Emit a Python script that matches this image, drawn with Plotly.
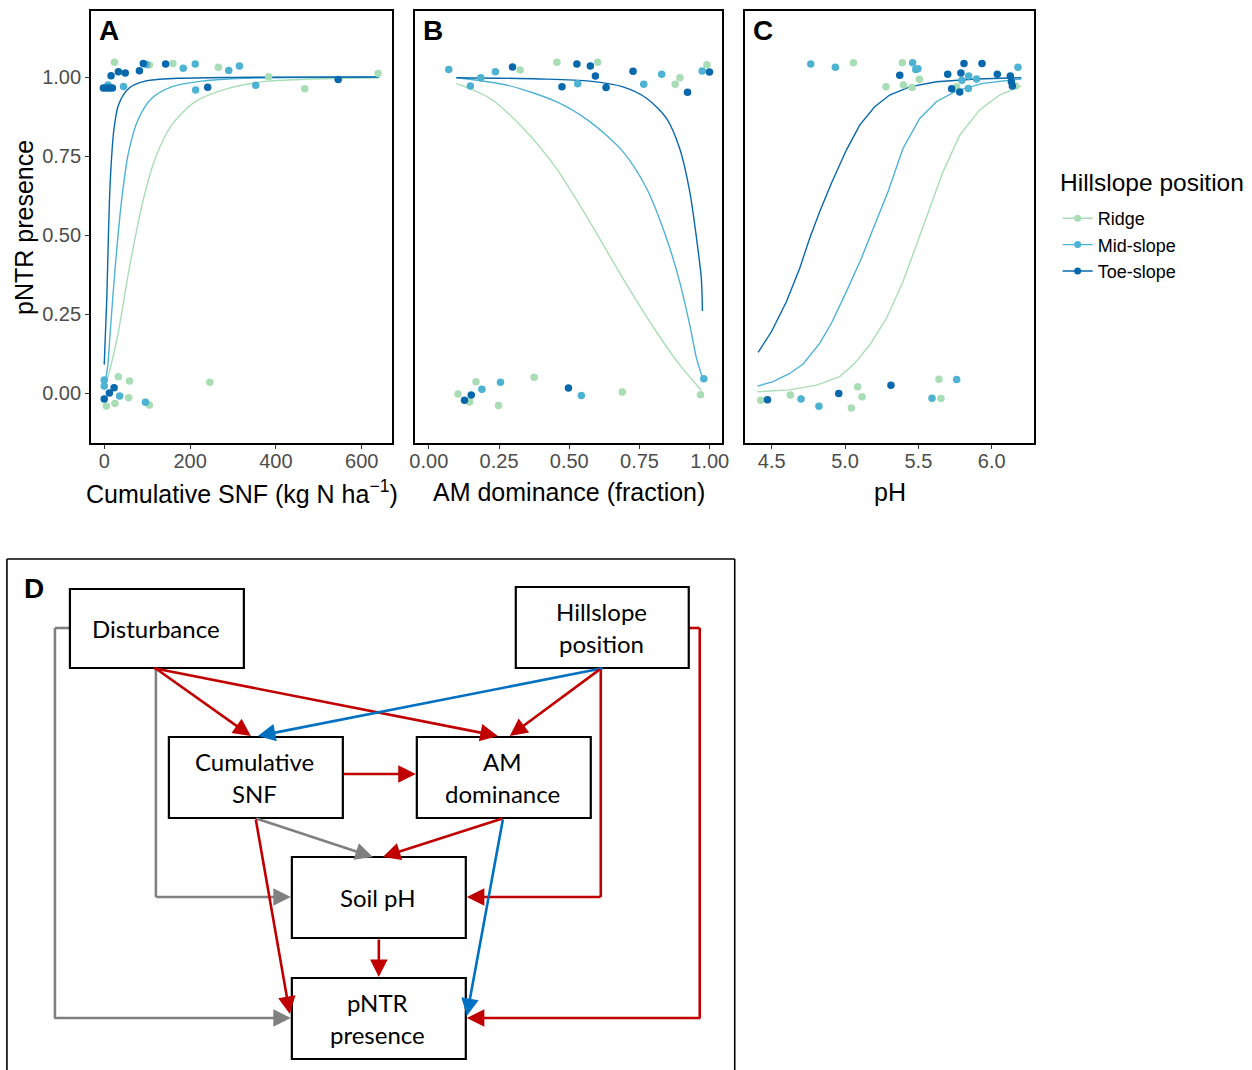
import plotly.graph_objects as go

W, H = 1252, 1070

groups = ["Ridge", "Mid-slope", "Toe-slope"]
colors = ["#a8ddb5", "#4eb3d3", "#0868ac"]

# ---------------- Panel A: cumulative SNF ----------------
snf_ridge_x = [24, 105, 160, 266, 383, 467, 638, 33, 59, 246, 57, 25, 5, 105]
snf_ridge_y = [1.047, 1.038, 1.043, 1.031, 1.001, 0.963, 1.011, 0.052, 0.038, 0.034, -0.015, -0.033, -0.041, -0.038]
snf_mid_x = [9, 45, 98, 184, 212, 213, 290, 315, 353, 0, 0, 36, 96]
snf_mid_y = [0.975, 0.970, 1.040, 1.028, 1.041, 0.959, 1.021, 1.035, 0.974, 0.041, 0.022, -0.009, -0.029]
snf_toe_x = [16, 33, 49, -2, 5, 12, 19, 82, 91, 143, 241, 545, 23, 12, 0]
snf_toe_y = [1.004, 1.017, 1.013, 0.965, 0.965, 0.965, 0.965, 1.020, 1.043, 1.041, 0.968, 0.992, 0.017, 0.0, -0.019]

snf_fit_ridge_x = [0, 16, 33, 57, 88, 119, 157, 212, 289, 382, 640]
snf_fit_ridge_y = [0.01, 0.089, 0.194, 0.384, 0.595, 0.743, 0.848, 0.922, 0.964, 0.987, 0.998]
snf_fit_mid_x = [0, 8.5, 14, 26, 41, 57, 80, 111, 157, 227, 328, 640]
snf_fit_mid_y = [0.015, 0.089, 0.194, 0.405, 0.616, 0.764, 0.869, 0.933, 0.969, 0.987, 0.996, 1.0]
snf_fit_toe_x = [0, 6, 10, 14, 22, 33, 57, 95, 173, 300, 640]
snf_fit_toe_y = [0.09, 0.30, 0.51, 0.67, 0.827, 0.911, 0.964, 0.987, 0.996, 0.999, 1.0]

# ---------------- Panel B: AM dominance ----------------
am_ridge_x = [0.325, 0.456, 0.601, 0.877, 0.894, 0.990, 0.104, 0.145, 0.168, 0.248, 0.375, 0.689, 0.967]
am_ridge_y = [1.022, 1.047, 1.047, 0.977, 0.998, 1.039, -0.003, -0.028, 0.036, -0.039, 0.050, 0.003, -0.005]
am_mid_x = [0.071, 0.148, 0.185, 0.237, 0.530, 0.765, 0.829, 0.973, 0.189, 0.255, 0.543, 0.979]
am_mid_y = [1.024, 0.972, 0.998, 1.017, 0.979, 0.977, 1.009, 1.019, 0.012, 0.034, -0.008, 0.045]
am_toe_x = [0.298, 0.474, 0.527, 0.575, 0.593, 0.631, 0.727, 0.921, 0.999, 0.127, 0.151, 0.497]
am_toe_y = [1.032, 0.969, 1.041, 1.035, 1.003, 0.967, 1.018, 0.952, 1.016, -0.023, -0.006, 0.016]

am_fit_ridge_x = [0.098, 0.217, 0.336, 0.454, 0.573, 0.691, 0.810, 0.893, 0.970]
am_fit_ridge_y = [0.980, 0.933, 0.838, 0.711, 0.542, 0.363, 0.194, 0.089, 0.009]
am_fit_mid_x = [0.098, 0.276, 0.454, 0.573, 0.691, 0.775, 0.846, 0.893, 0.929, 0.953, 0.976]
am_fit_mid_y = [0.998, 0.975, 0.922, 0.859, 0.764, 0.648, 0.490, 0.352, 0.215, 0.110, 0.044]
am_fit_toe_x = [0.098, 0.395, 0.573, 0.691, 0.775, 0.846, 0.893, 0.929, 0.953, 0.970, 0.974]
am_fit_toe_y = [0.998, 0.994, 0.987, 0.969, 0.933, 0.869, 0.774, 0.637, 0.490, 0.363, 0.260]

# ---------------- Panel C: pH ----------------
ph_ridge_x = [5.057, 5.391, 5.279, 5.398, 5.457, 5.507, 5.761, 6.163, 4.425, 4.627, 5.043, 5.086, 5.116, 5.640, 5.654]
ph_ridge_y = [1.045, 1.045, 0.969, 0.975, 0.967, 0.993, 0.969, 0.972, -0.023, -0.006, -0.047, 0.020, -0.012, 0.044, -0.017]
ph_mid_x = [4.766, 4.934, 5.461, 5.482, 5.497, 5.797, 5.843, 5.841, 5.897, 6.179, 4.700, 4.822, 5.593, 5.761]
ph_mid_y = [1.041, 1.031, 1.045, 1.024, 1.026, 0.990, 1.003, 0.964, 0.994, 1.031, -0.019, -0.042, -0.016, 0.043]
ph_toe_x = [5.373, 5.700, 5.811, 5.790, 5.727, 5.782, 5.934, 6.038, 6.127, 6.134, 6.141, 4.471, 4.957, 5.313]
ph_toe_y = [1.006, 1.009, 1.043, 1.013, 0.963, 0.953, 1.043, 1.009, 1.003, 0.985, 0.972, -0.021, -0.001, 0.025]

ph_fit_ridge_x = [4.403, 4.623, 4.805, 4.964, 5.066, 5.168, 5.282, 5.395, 5.486, 5.577, 5.668, 5.782, 5.918, 6.054, 6.202]
ph_fit_ridge_y = [0.004, 0.010, 0.025, 0.052, 0.094, 0.152, 0.236, 0.352, 0.468, 0.584, 0.700, 0.816, 0.896, 0.943, 0.972]
ph_fit_mid_x = [4.403, 4.509, 4.623, 4.714, 4.827, 4.907, 5.009, 5.111, 5.202, 5.293, 5.395, 5.509, 5.623, 5.759, 5.940, 6.202]
ph_fit_mid_y = [0.022, 0.036, 0.062, 0.092, 0.157, 0.221, 0.321, 0.426, 0.532, 0.637, 0.774, 0.869, 0.922, 0.956, 0.980, 0.994]
ph_fit_toe_x = [4.407, 4.498, 4.600, 4.691, 4.759, 4.827, 4.907, 5.009, 5.100, 5.202, 5.304, 5.441, 5.623, 5.895, 6.202]
ph_fit_toe_y = [0.129, 0.194, 0.289, 0.395, 0.490, 0.574, 0.664, 0.769, 0.848, 0.906, 0.943, 0.969, 0.985, 0.994, 0.998]

y_ticks = [0, 0.25, 0.5, 0.75, 1.0]
y_ticklabels = ["0.00", "0.25", "0.50", "0.75", "1.00"]
snf_ticks = [0, 200, 400, 600]
am_ticks = [0, 0.25, 0.5, 0.75, 1.0]
am_ticklabels = ["0.00", "0.25", "0.50", "0.75", "1.00"]
ph_ticks = [4.5, 5.0, 5.5, 6.0]
ph_ticklabels = ["4.5", "5.0", "5.5", "6.0"]

panel_letters = ["A", "B", "C"]
x_titles = ["Cumulative SNF (kg N ha<sup>\u22121</sup>)", "AM dominance (fraction)", "pH"]
y_title = "pNTR presence"
legend_title = "Hillslope position"

# ---------------- Panel D: path diagram ----------------
node_names = ["Disturbance", "Hillslope position", "Cumulative SNF", "AM dominance", "Soil pH", "pNTR presence"]
node_lines = [["Disturbance"], ["Hillslope", "position"], ["Cumulative", "SNF"], ["AM", "dominance"], ["Soil pH"], ["pNTR", "presence"]]
edge_from = ["Disturbance", "Disturbance", "Disturbance", "Disturbance", "Hillslope position", "Hillslope position",
             "Hillslope position", "Hillslope position", "Cumulative SNF", "Cumulative SNF", "AM dominance",
             "Cumulative SNF", "AM dominance", "Soil pH"]
edge_to = ["pNTR presence", "Soil pH", "Cumulative SNF", "AM dominance", "Cumulative SNF", "AM dominance",
           "Soil pH", "pNTR presence", "AM dominance", "Soil pH", "Soil pH",
           "pNTR presence", "pNTR presence", "pNTR presence"]
edge_effect = ["ns", "ns", "pos", "pos", "neg", "pos", "pos", "pos", "pos", "ns", "pos", "pos", "neg", "pos"]

# layout (pixel positions) for the diagram
node_box = {
    "Disturbance": (70, 589, 244, 668),
    "Hillslope position": (516, 587, 689, 668),
    "Cumulative SNF": (169, 737, 343, 818),
    "AM dominance": (417, 737, 591, 818),
    "Soil pH": (292, 857, 466, 938),
    "pNTR presence": (292, 978, 466, 1059),
}
edge_paths = [
    [(70, 628), (55, 628), (55, 1018), (291, 1018)],
    [(156, 668), (156, 897), (291, 897)],
    [(156, 668), (251, 736)],
    [(156, 668), (498, 736)],
    [(601, 668), (258, 736)],
    [(601, 668), (510, 736)],
    [(601, 668), (601, 897), (467, 897)],
    [(689, 628), (700, 628), (700, 1018), (467, 1018)],
    [(343, 774), (416, 774)],
    [(256, 818), (373, 857)],
    [(503, 818), (383, 857)],
    [(256, 818), (290, 1014)],
    [(503, 818), (467, 1016)],
    [(379, 938), (379, 977)],
]
effect_color = {"pos": "#c00000", "neg": "#0070c0", "ns": "#808080"}

FONT = "Liberation Sans, Arial, sans-serif"
DFONT = "Lato, Carlito, Calibri, sans-serif"

# horizontal calibration of the page (observed render offset/scale)
SX, BX = 0.9907, 5.06


def px(x):
    return ((x - BX) / SX) / W


def py(y):
    return 1 - y / H


fig = go.Figure()

panels = [
    (snf_fit_ridge_x, snf_fit_ridge_y, snf_fit_mid_x, snf_fit_mid_y, snf_fit_toe_x, snf_fit_toe_y,
     snf_ridge_x, snf_ridge_y, snf_mid_x, snf_mid_y, snf_toe_x, snf_toe_y, "spline"),
    (am_fit_ridge_x, am_fit_ridge_y, am_fit_mid_x, am_fit_mid_y, am_fit_toe_x, am_fit_toe_y,
     am_ridge_x, am_ridge_y, am_mid_x, am_mid_y, am_toe_x, am_toe_y, "spline"),
    (ph_fit_ridge_x, ph_fit_ridge_y, ph_fit_mid_x, ph_fit_mid_y, ph_fit_toe_x, ph_fit_toe_y,
     ph_ridge_x, ph_ridge_y, ph_mid_x, ph_mid_y, ph_toe_x, ph_toe_y, "linear"),
]

for pi, p in enumerate(panels):
    xa = "x" if pi == 0 else f"x{pi + 1}"
    ya = "y" if pi == 0 else f"y{pi + 1}"
    fits = [(p[0], p[1]), (p[2], p[3]), (p[4], p[5])]
    pts = [(p[6], p[7]), (p[8], p[9]), (p[10], p[11])]
    for gi in range(3):
        fig.add_trace(go.Scatter(x=fits[gi][0], y=fits[gi][1], mode="lines",
                                 line=dict(color=colors[gi], width=1.4, shape=p[12], smoothing=0.8),
                                 xaxis=xa, yaxis=ya, showlegend=False, hoverinfo="skip"))
    for gi in range(3):
        fig.add_trace(go.Scatter(x=pts[gi][0], y=pts[gi][1], mode="markers",
                                 marker=dict(color=colors[gi], size=7.5),
                                 xaxis=xa, yaxis=ya, showlegend=False))

# legend entries
for gi in range(3):
    fig.add_trace(go.Scatter(x=[None], y=[None], mode="lines+markers", name=groups[gi],
                             line=dict(color=colors[gi], width=1.4),
                             marker=dict(color=colors[gi], size=7),
                             xaxis="x", yaxis="y", showlegend=True))

ydom = [py(443), py(11)]
axis_common = dict(showline=True, mirror=True, linecolor="#000000", linewidth=1.6,
                   showgrid=False, zeroline=False, ticks="outside", ticklen=4,
                   tickcolor="#333333", tickwidth=1,
                   tickfont=dict(family=FONT, size=20, color="#4d4d4d"))
xaxis_common = dict(axis_common, ticklabelstandoff=-5)

fig.update_layout(
    width=W, height=H,
    margin=dict(l=0, r=0, t=0, b=0),
    paper_bgcolor="white", plot_bgcolor="white",
    font=dict(family=FONT, color="#000000"),
    xaxis=dict(domain=[px(91), px(392)], range=[-31, 670], tickvals=snf_ticks,
               ticktext=[str(v) for v in snf_ticks], anchor="y", **xaxis_common),
    xaxis2=dict(domain=[px(415), px(722)], range=[-0.0498, 1.0427], tickvals=am_ticks,
                ticktext=am_ticklabels, anchor="y2", **xaxis_common),
    xaxis3=dict(domain=[px(745), px(1034)], range=[4.316, 6.286], tickvals=ph_ticks,
                ticktext=ph_ticklabels, anchor="y3", **xaxis_common),
    yaxis=dict(domain=ydom, range=[-0.158, 1.209], tickvals=y_ticks, ticktext=y_ticklabels,
               anchor="x", **axis_common),
    yaxis2=dict(domain=ydom, range=[-0.158, 1.209], anchor="x2",
                **{**axis_common, "ticks": "", "showticklabels": False}),
    yaxis3=dict(domain=ydom, range=[-0.158, 1.209], anchor="x3",
                **{**axis_common, "ticks": "", "showticklabels": False}),
    legend=dict(x=px(1058), y=py(200), xanchor="left", yanchor="top",
                font=dict(family=FONT, size=18, color="#000000"),
                itemwidth=30, tracegroupgap=0, bgcolor="rgba(0,0,0,0)"),
)

annotations = []
shapes = []

# legend title
annotations.append(dict(x=px(1058), y=py(182), xref="paper", yref="paper", text=legend_title,
                        showarrow=False, xanchor="left", yanchor="middle",
                        font=dict(family=FONT, size=24.5, color="#000000")))

# panel letters
letter_x = [97, 421, 751]
for li, letter in enumerate(panel_letters):
    annotations.append(dict(x=px(letter_x[li]), y=py(30), xref="paper", yref="paper",
                            text=f"<b>{letter}</b>", showarrow=False, xanchor="left", yanchor="middle",
                            font=dict(family=FONT, size=28, color="#000000")))
# axis titles
title_x = [242, 569, 890]
for ti, t in enumerate(x_titles):
    annotations.append(dict(x=px(title_x[ti]), y=py(492), xref="paper", yref="paper", text=t,
                            showarrow=False, xanchor="center", yanchor="middle",
                            font=dict(family=FONT, size=25, color="#000000")))
annotations.append(dict(x=px(24), y=py(227), xref="paper", yref="paper", text=y_title, textangle=-90,
                        showarrow=False, xanchor="center", yanchor="middle",
                        font=dict(family=FONT, size=25, color="#000000")))

# panel D frame
for (x0, y0, x1, y1) in [(7, 559, 735, 559), (7, 559, 7, 1075), (735, 559, 735, 1075)]:
    shapes.append(dict(type="line", xref="paper", yref="paper", x0=px(x0), y0=py(y0), x1=px(x1), y1=py(y1),
                       line=dict(color="#000000", width=1.6)))
annotations.append(dict(x=px(22), y=py(588), xref="paper", yref="paper", text="<b>D</b>", showarrow=False,
                        xanchor="left", yanchor="middle", font=dict(family=FONT, size=28, color="#000000")))

# edges
for ei in range(len(edge_from)):
    col = effect_color[edge_effect[ei]]
    path = edge_paths[ei]
    lw = 2.6
    for (a, b) in zip(path[:-2], path[1:-1]):
        shapes.append(dict(type="line", xref="paper", yref="paper", x0=px(a[0]), y0=py(a[1]),
                           x1=px(b[0]), y1=py(b[1]), line=dict(color=col, width=lw)))
    tail, head = path[-2], path[-1]
    annotations.append(dict(x=px(head[0]), y=py(head[1]), xref="paper", yref="paper",
                            axref="pixel", ayref="pixel", ax=(tail[0] - head[0]) / SX, ay=tail[1] - head[1],
                            text="", showarrow=True, arrowhead=2, arrowsize=1.35, arrowwidth=lw,
                            arrowcolor=col, standoff=0, startstandoff=0))

# nodes
for ni, name in enumerate(node_names):
    x0, y0, x1, y1 = node_box[name]
    shapes.append(dict(type="rect", xref="paper", yref="paper", x0=px(x0), y0=py(y0), x1=px(x1), y1=py(y1),
                       line=dict(color="#000000", width=2.2), fillcolor="rgba(0,0,0,0)"))
    lines = node_lines[ni]
    cx = (x0 + x1) / 2 - 1
    cy = (y0 + y1) / 2
    gap = 32
    for k, ln in enumerate(lines):
        yy = cy + (k - (len(lines) - 1) / 2) * gap
        annotations.append(dict(x=px(cx), y=py(yy), xref="paper", yref="paper", text=ln, showarrow=False,
                                xanchor="center", yanchor="middle",
                                font=dict(family=DFONT, size=24, color="#000000")))

fig.update_layout(annotations=annotations, shapes=shapes)

fig.write_html("out.html")
